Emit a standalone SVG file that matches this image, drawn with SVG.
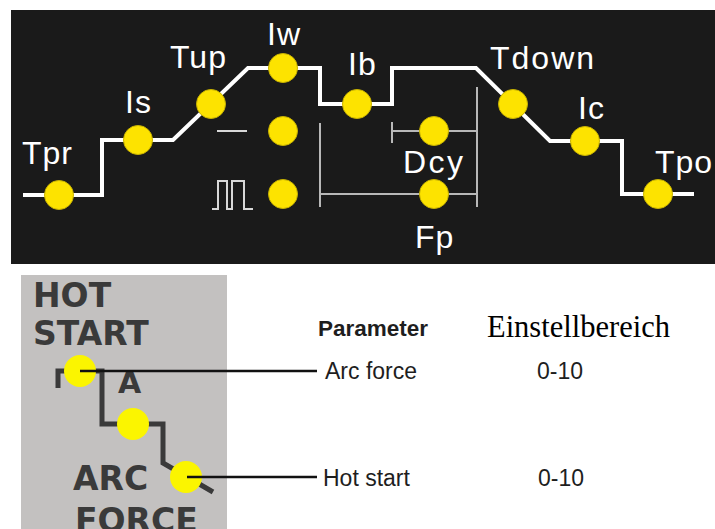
<svg xmlns="http://www.w3.org/2000/svg" width="715" height="529" viewBox="0 0 715 529">
<style>
.lbl{font-family:"Liberation Sans",Arial,sans-serif;font-size:32px;fill:#ffffff;letter-spacing:1px}
.dot{fill:#fde300;stroke:#c8b200;stroke-width:1}
.ydot{fill:#fbf500}
.wave{fill:none;stroke:#ffffff;stroke-width:4;stroke-linejoin:miter}
.dim{fill:none;stroke:#b8b8b8;stroke-width:2}
.bold{font-family:"DejaVu Sans",Verdana,sans-serif;font-weight:bold;font-size:33px;fill:#3a3a3a}
.txt{font-family:"Liberation Sans",Arial,sans-serif;font-size:23px;fill:#1e1e1e}
.lead{fill:none;stroke:#111111;stroke-width:2.5}
</style>
<rect x="11" y="10" width="704" height="254" fill="#1a1a1a"/>
<rect x="21" y="275" width="206" height="254" fill="#c3c1c0"/>
<g id="connectors">
<path class="wave" d="M23,195 H102 V140 H173 L248,68 H320 V104 H392 V68 H476 L550,141 H622 V194 H694"/>
<path class="dim" d="M320,123 V207 M320,194 H477 M477,87 V207 M392,131 H477 M392,122 V143"/>
<path fill="none" stroke="#d8d8d8" stroke-width="2" d="M217,131 H247"/>
<path fill="none" stroke="#d8d8d8" stroke-width="2" d="M212,209 H218 V181 H227 V209 H232 V181 H244 V209 H253"/>
<path fill="none" stroke="#3a3a3a" stroke-width="5" d="M58,388 V371 H102 V424 H163 V463 L213,492"/>
</g>
<g id="Tpr"><circle class="dot" cx="59" cy="195" r="14.5"/><text class="lbl" x="22" y="164">Tpr</text></g>
<g id="Is"><circle class="dot" cx="138" cy="140" r="14.5"/><text class="lbl" x="125" y="113">Is</text></g>
<g id="Tup"><circle class="dot" cx="211" cy="104" r="14.5"/><text class="lbl" x="170" y="68">Tup</text></g>
<g id="Iw"><circle class="dot" cx="283" cy="68" r="14.5"/><text class="lbl" x="267" y="45">Iw</text></g>
<g id="Ib"><circle class="dot" cx="357" cy="104" r="14.5"/><text class="lbl" x="348" y="75">Ib</text></g>
<g id="Tdown"><circle class="dot" cx="513" cy="104" r="14.5"/><text class="lbl" x="490" y="69" style="letter-spacing:2px">Tdown</text></g>
<g id="Ic"><circle class="dot" cx="585" cy="141" r="14.5"/><text class="lbl" x="578" y="119">Ic</text></g>
<g id="Tpo"><circle class="dot" cx="658" cy="194" r="14.5"/><text class="lbl" x="655" y="173">Tpo</text></g>
<g id="DC"><circle class="dot" cx="283" cy="131" r="14.5"/></g>
<g id="Pulse"><circle class="dot" cx="283" cy="194" r="14.5"/></g>
<g id="Dcy"><circle class="dot" cx="434" cy="131" r="14.5"/><text class="lbl" x="403" y="173" style="letter-spacing:2.5px">Dcy</text></g>
<g id="Fp"><circle class="dot" cx="434" cy="194" r="14.5"/><text class="lbl" x="415" y="248">Fp</text></g>
<g id="panel-labels">
<text class="bold" x="33" y="307">HOT</text>
<text class="bold" x="33" y="345">START</text>
<text class="bold" x="118" y="393" style="font-size:30px">A</text>
<text class="bold" x="73" y="490">ARC</text>
<text class="bold" x="75" y="532">FORCE</text>
</g>
<g id="ArcForceDot"><circle class="ydot" cx="80" cy="371" r="16"/></g>
<g id="MidDot"><circle class="ydot" cx="133" cy="424" r="16"/></g>
<g id="HotStartDot"><circle class="ydot" cx="186" cy="477" r="16"/></g>
<g id="leaders">
<path class="lead" d="M80,371 H317"/>
<path class="lead" d="M187,477 H317"/>
</g>
<g id="table">
<text class="txt" x="318" y="336" style="font-weight:bold;font-size:22.5px">Parameter</text>
<text x="487" y="337" style="font-family:'Liberation Serif','Times New Roman',serif;font-size:30.5px;fill:#000">Einstellbereich</text>
<text class="txt" x="325" y="379">Arc force</text>
<text class="txt" x="537" y="379">0-10</text>
<text class="txt" x="323" y="486">Hot start</text>
<text class="txt" x="538" y="486">0-10</text>
</g>
</svg>
